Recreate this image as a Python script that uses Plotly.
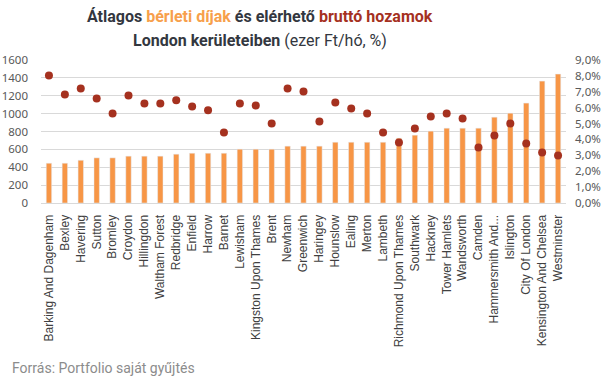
import plotly.graph_objects as go

categories = ["Barking And Dagenham", "Bexley", "Havering", "Sutton", "Bromley", "Croydon",
              "Hillingdon", "Waltham Forest", "Redbridge", "Enfield", "Harrow", "Barnet",
              "Lewisham", "Kingston Upon Thames", "Brent", "Newham", "Greenwich", "Haringey",
              "Hounslow", "Ealing", "Merton", "Lambeth", "Richmond Upon Thames", "Southwark",
              "Hackney", "Tower Hamlets", "Wandsworth", "Camden", "Hammersmith And...",
              "Islington", "City Of London", "Kensington And Chelsea", "Westminster"]

rent = [445, 445, 478, 505, 505, 524, 524, 524, 546, 557, 557, 557, 602, 602, 602, 636, 636,
        636, 680, 680, 680, 680, 725, 759, 804, 837, 837, 837, 960, 1005, 1118, 1364, 1442]

yield_pct = [8.03, 6.83, 7.21, 6.58, 5.64, 6.77, 6.27, 6.27, 6.46, 6.08, 5.83, 4.44, 6.27,
             6.14, 5.00, 7.21, 7.02, 5.13, 6.33, 5.95, 5.64, 4.44, 3.81, 4.69, 5.45, 5.64,
             5.32, 3.49, 4.25, 5.00, 3.75, 3.18, 2.99]

left_ticks = [0, 200, 400, 600, 800, 1000, 1200, 1400, 1600]
right_ticks = [0, 1, 2, 3, 4, 5, 6, 7, 8, 9]
right_labels = ["0,0%", "1,0%", "2,0%", "3,0%", "4,0%", "5,0%", "6,0%", "7,0%", "8,0%", "9,0%"]

BAR = "#F79646"
DOT = "#A5311F"
DARK = "#333740"
AX = "#595959"

fig = go.Figure()
fig.add_trace(go.Bar(x=categories, y=rent, marker_color=BAR, width=0.34, yaxis="y"))
fig.add_trace(go.Scatter(x=categories, y=yield_pct, mode="markers", yaxis="y2",
                         marker=dict(color=DOT, size=8)))

line1 = ("<b>Átlagos <span style='color:#F7A04B'>bérleti díjak</span> és elérhető "
         "<span style='color:#A5311F'>bruttó hozamok</span></b>")
line2 = "<b>London kerületeiben</b> (ezer Ft/hó, %)"

fig.update_layout(
    width=605, height=382,
    margin=dict(l=41, r=39, t=60, b=179, autoexpand=False),
    paper_bgcolor="white", plot_bgcolor="white",
    showlegend=False,
    xaxis=dict(type="category", range=[-0.5, 32.5], tickangle=-90,
               tickfont=dict(family="Liberation Sans", size=12, color="#404040"),
               showline=True, linecolor="#d9d9d9", linewidth=1, ticks="", showgrid=False,
               ticklabelstandoff=6),
    yaxis=dict(range=[0, 1600], tickvals=left_ticks, showgrid=True, gridcolor="#d9d9d9",
               gridwidth=1, zeroline=False,
               tickfont=dict(family="Noto Sans", size=11.5, color=AX), ticks="",
               ticklabelstandoff=12),
    yaxis2=dict(range=[0, 9], tickvals=right_ticks, ticktext=right_labels, overlaying="y",
                side="right", showgrid=False, zeroline=False,
                tickfont=dict(family="Noto Sans", size=11.5, color=AX), ticks="",
                ticklabelstandoff=8),
    annotations=[
        dict(text=line1, xref="paper", yref="paper", x=0.417, y=1.3007, xanchor="center",
             yanchor="middle", showarrow=False,
             font=dict(family="Roboto", size=16, color=DARK)),
        dict(text=line2, xref="paper", yref="paper", x=0.417, y=1.1329, xanchor="center",
             yanchor="middle", showarrow=False,
             font=dict(family="Roboto", size=16, color=DARK)),
        dict(text="Forrás: Portfolio saját gyűjtés", xref="paper", yref="paper",
             x=-0.059, y=-1.154, xanchor="left", yanchor="middle", showarrow=False,
             font=dict(family="Roboto", size=14, color="#8C8C8C")),
    ],
)

fig.write_html("out.html", config={"displayModeBar": False},
               post_script="document.body.style.margin='0';")
